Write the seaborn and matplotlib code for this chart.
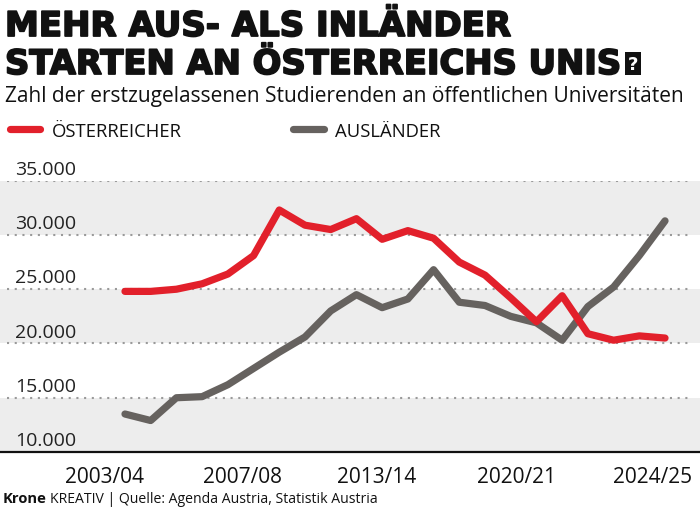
import pandas as pd
import numpy as np
import matplotlib.pyplot as plt
import matplotlib.patheffects as pe
import seaborn as sns
from matplotlib.lines import Line2D
from matplotlib.patches import Rectangle

# ==========================================
# Daten (erstzugelassene Studierende, öffentliche Unis)
# ==========================================
studienjahre = ['2003/04', '2004/05', '2005/06', '2006/07', '2007/08', '2008/09',
                '2009/10', '2010/11', '2011/12', '2012/13', '2013/14', '2014/15',
                '2015/16', '2016/17', '2017/18', '2018/19', '2019/20', '2020/21',
                '2021/22', '2022/23', '2023/24', '2024/25']
oesterreicher = [24800, 24800, 25000, 25500, 26400, 28100, 32300, 30900, 30500, 31500, 29600,
                 30400, 29700, 27500, 26300, 24200, 22000, 24400, 20900, 20300, 20700, 20500]
auslaender = [13500, 12900, 15000, 15100, 16200, 17700, 19200, 20600, 23000, 24500, 23300,
              24100, 26800, 23800, 23500, 22500, 21900, 20300, 23400, 25200, 28100, 31300]

y_ticks = [10000, 15000, 20000, 25000, 30000, 35000]
y_labels = ['10.000', '15.000', '20.000', '25.000', '30.000', '35.000']
x_tick_labels = ['2003/04', '2007/08', '2013/14', '2020/21', '2024/25']
x_tick_pos = [-0.78, 4.56, 9.78, 15.23, 20.53]   # Beschriftung gleichmäßig verteilt wie im Original

ROT = '#e2202b'
GRAU = '#66625f'
BAND = '#ededed'

df = pd.DataFrame({
    'idx': list(range(len(studienjahre))) * 2,
    'wert': oesterreicher + auslaender,
    'gruppe': ['ÖSTERREICHER'] * len(studienjahre) + ['AUSLÄNDER'] * len(studienjahre),
})

# ==========================================
# Grafik
# ==========================================
sns.set_style("white")
plt.rcParams['font.family'] = ['Open Sans', 'DejaVu Sans']

W, H = 700, 510
fig = plt.figure(figsize=(7, 5.1), dpi=100)

def fx(px):
    return px / W

def fy(py):
    return 1 - py / H

ax = fig.add_axes([0, fy(453), 1, (453 - 181.7) / H])

# graue Bänder
for lo in [10000, 20000, 30000]:
    ax.axhspan(lo, lo + 5000, color=BAND, zorder=0, lw=0)
# gepunktete Linien
for v in y_ticks[1:]:
    ax.axhline(v, xmin=0.01, xmax=0.99, color='#9a9a9a', lw=1.5,
               linestyle=(0, (1, 2.7)), zorder=1)
ax.axhline(10000, color='#111111', lw=1.6, zorder=5, clip_on=False)

sns.lineplot(data=df, x='idx', y='wert', hue='gruppe',
             hue_order=['AUSLÄNDER', 'ÖSTERREICHER'],
             palette={'ÖSTERREICHER': ROT, 'AUSLÄNDER': GRAU},
             linewidth=5.2, legend=False, ax=ax, zorder=3)
for line in ax.lines[-2:]:
    line.set_solid_capstyle('round')
    line.set_solid_joinstyle('round')

ax.set_xlim(-4.86, 22.36)
ax.set_ylim(10000, 35000)
ax.set_yticks([])
ax.set_xticks(x_tick_pos, x_tick_labels, fontsize=15, color='#111111')
ax.tick_params(axis='x', length=0, pad=10)
ax.set_xlabel('')
ax.set_ylabel('')
for s in ax.spines.values():
    s.set_visible(False)

# y-Beschriftung über den Linien
for v, lab in zip(y_ticks, y_labels):
    ax.annotate(lab, xy=(0, v), xycoords=('axes fraction', 'data'),
                xytext=(11, 5), textcoords='offset points',
                ha='left', va='baseline', fontsize=14, color='#222222',
                annotation_clip=False)

# ==========================================
# Texte
# ==========================================
renderer = fig.canvas.get_renderer()

def fit_width(t, target_px):
    w = t.get_window_extent(renderer).width
    t.set_fontsize(t.get_fontsize() * target_px / w)

fett = [pe.withStroke(linewidth=1.3, foreground='#111111')]
t1 = fig.text(fx(5), fy(37), 'MEHR AUS- ALS INLÄNDER', fontsize=24.5,
              fontweight='bold', family=['DejaVu Sans'], va='baseline', color='#111111',
              path_effects=fett)
t2 = fig.text(fx(5), fy(75), 'STARTEN AN ÖSTERREICHS UNIS', fontsize=24.5,
              fontweight='bold', family=['DejaVu Sans'], va='baseline', color='#111111',
              path_effects=fett)
fit_width(t1, 506)
fit_width(t2, 616)
e2 = t2.get_window_extent(renderer)
bx = e2.x1 + 4
fig.patches.append(Rectangle((bx / W, fy(76)), 16 / W, 23 / H, transform=fig.transFigure,
                             facecolor='#111111', edgecolor='none'))
fig.text((bx + 8) / W, fy(64.5), '?', fontsize=13, fontweight='bold', color='white',
         family=['DejaVu Sans'], ha='center', va='center')

sub = fig.text(fx(5), fy(102), 'Zahl der erstzugelassenen Studierenden an öffentlichen Universitäten',
               fontsize=14, va='baseline', color='#111111')
fit_width(sub, 681)

# Legende
fig.lines.append(Line2D([fx(9.5), fx(39.5)], [fy(130), fy(130)], transform=fig.transFigure,
                        color=ROT, lw=5.2, solid_capstyle='round'))
fig.lines.append(Line2D([fx(292.5), fx(323.5)], [fy(130), fy(130)], transform=fig.transFigure,
                        color=GRAU, lw=5.2, solid_capstyle='round'))
fig.text(fx(52), fy(137), 'ÖSTERREICHER', fontsize=13.3, va='baseline', color='#111111')
fig.text(fx(335), fy(137), 'AUSLÄNDER', fontsize=13.3, va='baseline', color='#111111')

# Fußzeile
k = fig.text(fx(3), fy(503), 'Krone', fontsize=10.6, fontweight='bold', va='baseline', color='#111111')
ek = k.get_window_extent(renderer)
q = fig.text((ek.x1 + 3) / W, fy(503), 'KREATIV | Quelle: Agenda Austria, Statistik Austria',
             fontsize=10.6, va='baseline', color='#111111')
fit_width(q, 378 - ek.x1 - 3)

fig.savefig('out.png', dpi=100)
